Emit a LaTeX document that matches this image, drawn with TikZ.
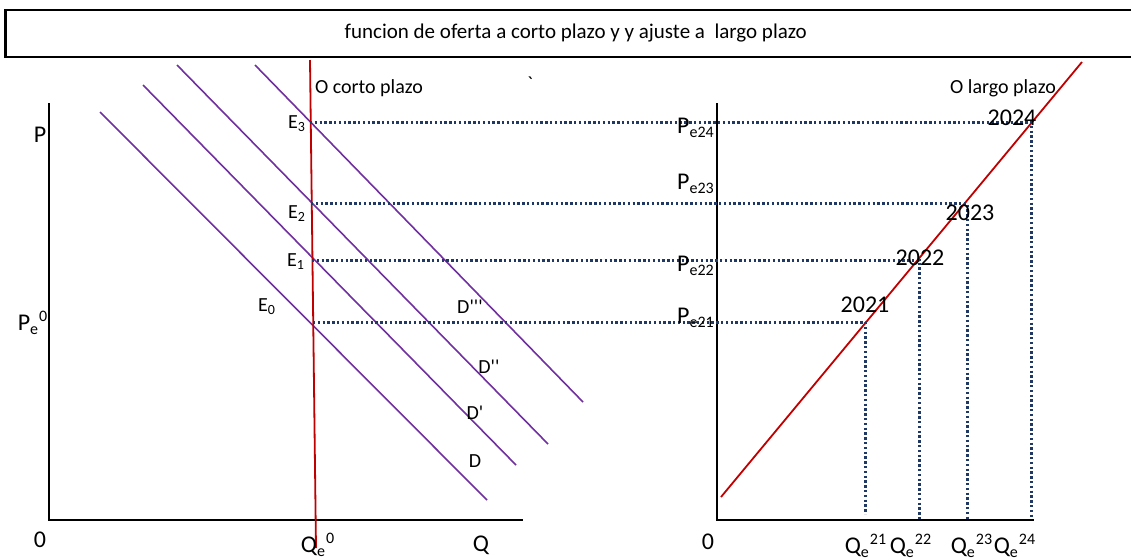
\documentclass[tikz,border=0pt]{standalone}
\usepackage{fontspec}
\setmainfont{Carlito}
\usetikzlibrary{positioning}
\definecolor{ofred}{RGB}{192,0,0}
\definecolor{dempurple}{RGB}{112,48,160}
\definecolor{guidenavy}{RGB}{31,56,100}
\tikzset{
	axis/.style={line width=1pt, black},
	supply/.style={line width=0.9pt, ofred},
	demand/.style={line width=0.8pt, dempurple},
	guideline/.style={line width=1.5pt, guidenavy, dash pattern=on 1.2pt off 1.2pt},
	titlebox/.style={draw, line width=1.3pt, minimum width=570.5pt,
		minimum height=23.5pt, inner sep=0pt, font=\fontsize{10.5}{12}\selectfont},
	lbl/.style={inner sep=0pt, font=\fontsize{10}{12}\selectfont},
	axlbl/.style={inner sep=0pt, font=\fontsize{12}{14}\selectfont},
	eqlbl/.style={inner sep=0pt, font=\fontsize{10}{11}\selectfont}
}
\newcommand{\prm}{\textquotesingle}

\begin{document}
\begin{tikzpicture}[x=0.5pt, y=-0.5pt]
	\useasboundingbox (0,0) rectangle (1131,559);
	\node[titlebox, anchor=west] (title) at (4,33.5) {funcion de oferta a corto plazo y y ajuste a\ \ largo plazo};

	% corto plazo
	\coordinate (E0) at (313,322);
	\coordinate (E1) at (312,260);
	\coordinate (E2) at (311,203);
	\coordinate (E3) at (310,122);
	\draw[axis] (49,103) -- (49,521) (49,520) -- (523,520);
	\draw[demand] (100,112) -- (487,500);
	\draw[demand] (143,85) -- (516,465);
	\draw[demand] (177,65) -- (548,444);
	\draw[demand] (255,65) -- (583,402);
	\draw[supply] (310,60) -- (316,548);

	% largo plazo
	\coordinate (L21) at (865,322);
	\coordinate (L22) at (919,260);
	\coordinate (L23) at (967,203);
	\coordinate (L24) at (1031,122);
	\coordinate (Q21) at (865,514);
	\coordinate (Q22) at (919,521);
	\coordinate (Q23) at (967,521);
	\coordinate (Q24) at (1031,517);
	\draw[axis] (717,103) -- (717,521) (717,520) -- (1034,520);
	\draw[supply] (721,497) -- (1082,62);
	\draw[guideline] (E3) -- (L24) -- (Q24);
	\draw[guideline] (E2) -- (L23) -- (Q23);
	\draw[guideline] (E1) -- (L22) -- (Q22);
	\draw[guideline] (E0) -- (L21) -- (Q21);

	\node[axlbl] (p) at (40,135) {P};
	\node[axlbl] (pe0) at (33,323) {P\textsubscript{e}\textsuperscript{0}};
	\node[axlbl] (zero) at (40,540) {0};
	\node[axlbl] (qe0) at (318,545) {Q\textsubscript{e}\textsuperscript{0}};
	\node[axlbl] (q) at (481,545) {Q};
	\node[lbl] (corto) at (369,88) {O corto plazo};
	\node[lbl] (tick) at (530,84) {\textasciigrave};
	\node[eqlbl] (e3) at (297,124) {E\textsubscript{3}};
	\node[eqlbl] (e2) at (297,214) {E\textsubscript{2}};
	\node[eqlbl] (e1) at (296,262) {E\textsubscript{1}};
	\node[eqlbl] (e0) at (267,307) {E\textsubscript{0}};
	\node[lbl] (d3) at (470,307) {D\prm\prm\prm};
	\node[lbl] (d2) at (489,367) {D\prm\prm};
	\node[lbl] (d1) at (475,413) {D\prm};
	\node[lbl] (d0) at (475,461) {D};

	\node[lbl] (largo) at (1003,88) {O largo plazo};
	\node[axlbl] (pe24) at (696,128) {P\textsubscript{e24}};
	\node[axlbl] (pe23) at (696,184) {P\textsubscript{e23}};
	\node[axlbl] (pe22) at (696,266) {P\textsubscript{e22}};
	\node[axlbl] (pe21) at (696,318) {P\textsubscript{e21}};
	\node[axlbl] (y24) at (1012,118) {2024};
	\node[axlbl] (y23) at (970,213) {2023};
	\node[axlbl] (y22) at (920,258) {2022};
	\node[axlbl] (y21) at (865,305) {2021};
	\node[axlbl] (zero2) at (708,542) {0};
	\node[axlbl] (qe21) at (866,546) {Q\textsubscript{e}\textsuperscript{21}};
	\node[axlbl] (qe22) at (911,546) {Q\textsubscript{e}\textsuperscript{22}};
	\node[axlbl] (qe23) at (972,546) {Q\textsubscript{e}\textsuperscript{23}};
	\node[axlbl] (qe24) at (1015,546) {Q\textsubscript{e}\textsuperscript{24}};
\end{tikzpicture}
\end{document}
